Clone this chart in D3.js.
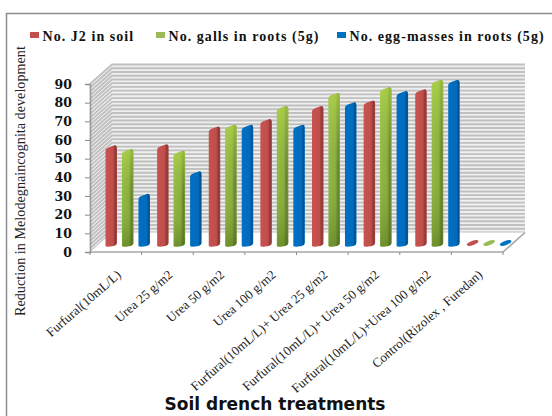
<!DOCTYPE html>
<html>
<head>
<meta charset="utf-8">
<script src="https://cdn.jsdelivr.net/npm/d3@7"></script>
<style>
  html, body { margin: 0; padding: 0; background: #fff; }
  svg { display: block; }
</style>
</head>
<body>
<div id="chart"></div>
<script>
const categories = ["Furfural(10mL/L)", "Urea 25 g/m2", "Urea 50 g/m2", "Urea 100 g/m2",
  "Furfural(10mL/L)+ Urea 25 g/m2", "Furfural(10mL/L)+ Urea 50 g/m2",
  "Furfural(10mL/L)+Urea 100 g/m2", "Control(Rizolex , Furedan)"]
const seriesNames = ["No. J2 in soil", "No. galls in roots (5g)", "No. egg-masses in roots (5g)"]
const j2Values = [52, 52.5, 62, 66, 73, 76, 82, 0]
const gallValues = [50, 49, 63, 73, 80, 83, 87, 0]
const eggValues = [26, 38, 63, 63, 75, 81, 87, 0]
const yTicks = [0, 10, 20, 30, 40, 50, 60, 70, 80, 90]

const width = 552, height = 416
const depth = {x: 22, y: -19.5}
const barLift = 6

const svg = d3.select("#chart").append("svg")
  .attr("width", width)
  .attr("height", height)

svg.append("rect").attr("width", width).attr("height", height).attr("fill", "#fff")

// outer frame, cut off by the right and bottom of the picture
svg.append("path")
  .attr("d", "M6.5,416V13.5H552")
  .attr("fill", "none")
  .attr("stroke", "#8c8c8c")
  .attr("stroke-width", 1.5)

const x = d3.scaleBand()
  .domain(categories)
  .range([90, 503])
const y = d3.scaleLinear()
  .domain([0, 90])
  .range([252, 84])

const colors = ["#c0504d", "#9bbb59", "#0070c0"]
const defs = svg.append("defs")

function barGradient(id, stops) {
  const g = defs.append("linearGradient").attr("id", id)
    .attr("x1", 0).attr("y1", 0).attr("x2", 1).attr("y2", 0)
  stops.forEach(s => g.append("stop").attr("offset", s[0]).attr("stop-color", s[1]))
}
barGradient("bar0", [[0, "#c9524f"], [0.65, "#bf4f4b"], [0.85, "#8f3835"], [1, "#a64441"]])
barGradient("bar1", [[0, "#92b840"], [0.6, "#8aae3c"], [0.85, "#5f7d2a"], [1, "#7a9c3c"]])
barGradient("bar2", [[0, "#0070c4"], [0.7, "#006cbd"], [0.88, "#00508f"], [1, "#0062ab"]])
const fade = defs.append("linearGradient").attr("id", "greenFade")
  .attr("x1", 0).attr("y1", 0).attr("x2", 0).attr("y2", 1)
fade.append("stop").attr("offset", 0).attr("stop-color", "#bce04e").attr("stop-opacity", 0.6)
fade.append("stop").attr("offset", 0.5).attr("stop-color", "#9bbb59").attr("stop-opacity", 0.05)
fade.append("stop").attr("offset", 1).attr("stop-color", "#3d5a12").attr("stop-opacity", 0.4)

// floor and walls
const x0 = x.range()[0], x1 = x.range()[1]
const y0 = y(0), yTop = y(90)
svg.append("rect")
  .attr("x", x0 + depth.x).attr("y", yTop + depth.y)
  .attr("width", x1 - x0).attr("height", y0 - yTop)
  .attr("fill", "#efefef")
svg.append("path")
  .attr("d", `M${x0},${y0}L${x0 + depth.x},${y0 + depth.y}V${yTop + depth.y}L${x0},${yTop}Z`)
  .attr("fill", "#f2f2f2")

// minor gridlines every 2 units give the striped walls
const grid = svg.append("g").attr("fill", "none").attr("stroke", "#c0c0c0").attr("stroke-width", 1.9)
d3.range(0, 91, 2).forEach(v => {
  grid.append("path")
    .attr("d", `M${x0},${y(v)}L${x0 + depth.x},${y(v) + depth.y}H${x1 + depth.x}`)
})

// floor edges
svg.append("path")
  .attr("d", `M${x0},${y0}L${x0 + depth.x},${y0 + depth.y}H${x1 + depth.x}L${x1},${y0}Z`)
  .attr("fill", "#fff")
svg.append("path")
  .attr("d", `M${x0},${y0}H${x1}L${x1 + depth.x},${y0 + depth.y}`)
  .attr("fill", "none").attr("stroke", "#a6a6a6").attr("stroke-width", 1.6)

// axes
const yAxis = d3.axisLeft(y).tickValues(yTicks).tickSize(5).tickPadding(13)
const gy = svg.append("g").attr("transform", `translate(${x0},0)`).call(yAxis)
gy.selectAll("text")
  .attr("font-family", "DejaVu Serif").attr("font-weight", "bold")
  .attr("font-size", 12.5).attr("fill", "#111")
gy.selectAll("line").attr("stroke", "#8c8c8c")
gy.select(".domain").attr("stroke", "#999").attr("stroke-width", 1.6)

const xAxis = d3.axisBottom(x).tickSizeOuter(0).tickSize(0)
const gx = svg.append("g").attr("transform", `translate(0,${y0})`).call(xAxis)
gx.select(".domain").remove()
gx.selectAll("g.tick").select("line").remove()
gx.selectAll("g.tick text")
  .attr("text-anchor", "end")
  .attr("font-family", "Liberation Serif")
  .attr("font-size", 13)
  .attr("fill", "#222")
  .attr("y", 0).attr("dy", 0)
  .attr("transform", "translate(6,24) rotate(-41)")

svg.append("g").attr("stroke", "#8c8c8c")
  .selectAll("line")
  .data(categories.map((c, i) => x0 + i * x.step()).concat([x1]))
  .join("line")
  .attr("x1", d => d).attr("x2", d => d)
  .attr("y1", y0).attr("y2", y0 + 3)

// bars
const inner = d3.scaleBand()
  .domain([0, 1, 2])
  .range([15.5, 60])
  .paddingInner(0.3)
const barW = 11.5
const seriesValues = [j2Values, gallValues, eggValues]

seriesValues.forEach((vals, s) => {
  const g = svg.append("g")
  categories.forEach((c, i) => {
    const left = x0 + i * x.step() + inner(s)
    const right = left + barW
    const base = y(0) - barLift
    const top = y(vals[i]) - barLift
    if (vals[i] === 0) {
      g.append("ellipse")
        .attr("cx", (left + right) / 2).attr("cy", base - 3)
        .attr("rx", 6.2).attr("ry", 2.1)
        .attr("transform", `rotate(-20 ${(left + right) / 2} ${base - 3})`)
        .attr("fill", colors[s])
      return
    }
    const d = `M${left},${base}V${top + 1.5}Q${left},${top - 0.5} ${left + 3},${top - 1.5}` +
      `L${right - 3},${top - 3.5}Q${right},${top - 4.5} ${right},${top - 1}` +
      `V${base - 3}Q${right},${base - 1} ${right - 3},${base}` +
      `L${left + 3},${base + 0.8}Q${left},${base + 0.8} ${left},${base}Z`
    g.append("path").attr("d", d).attr("fill", `url(#bar${s})`)
    if (s === 1) g.append("path").attr("d", d).attr("fill", "url(#greenFade)")
  })
})

// legend
const legendX = [30, 156, 337]
const legend = svg.append("g")
seriesNames.forEach((name, i) => {
  legend.append("rect")
    .attr("x", legendX[i]).attr("y", 32)
    .attr("width", 9).attr("height", 6)
    .attr("fill", colors[i])
  legend.append("text")
    .attr("x", legendX[i] + 12.5).attr("y", 40.5)
    .attr("font-family", "Liberation Serif").attr("font-weight", "bold")
    .attr("font-size", 14).attr("letter-spacing", 1.05)
    .attr("fill", "#111")
    .text(name)
})

// axis titles
svg.append("text")
  .attr("transform", "translate(25,316) rotate(-90)")
  .attr("font-family", "Liberation Serif")
  .attr("font-size", 14.2)
  .attr("fill", "#222")
  .text("Reduction in Melodegnaincognita development")

svg.append("text")
  .attr("x", 275).attr("y", 410)
  .attr("text-anchor", "middle")
  .attr("font-family", "DejaVu Sans").attr("font-weight", "bold")
  .attr("font-size", 17)
  .attr("fill", "#111")
  .text("Soil drench treatments")
</script>
</body>
</html>
